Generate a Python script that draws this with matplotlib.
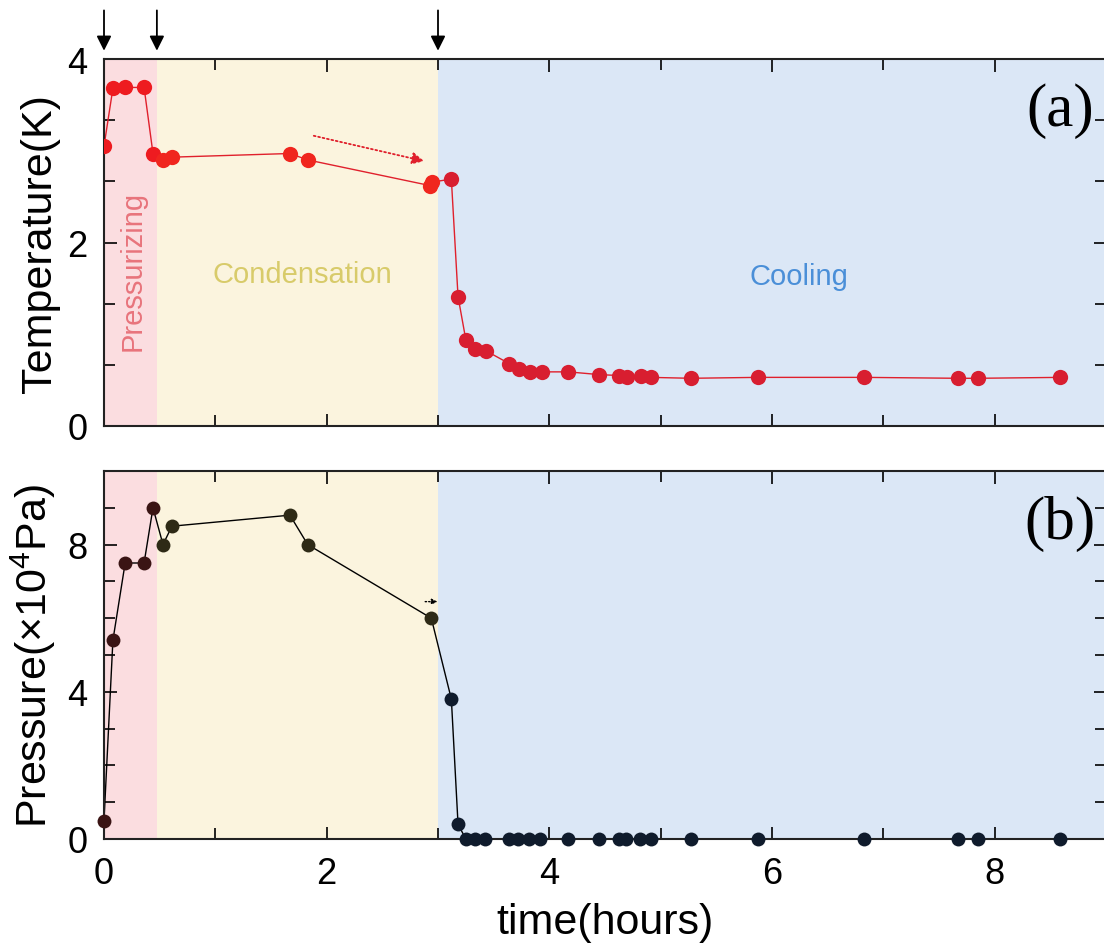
import matplotlib
matplotlib.use("Agg")
import numpy as np
import matplotlib.pyplot as plt
from matplotlib.ticker import MultipleLocator

plt.rcParams.update({"font.family": "Liberation Sans", "mathtext.default": "regular",
                     "xtick.direction": "in", "ytick.direction": "in",
                     "xtick.top": True, "ytick.right": True})

# phase boundaries (hours)
phases = [0.0, 0.475, 3.0, 9.0]
phase_names = ["Pressurizing", "Condensation", "Cooling"]

# (a) temperature
t_temp = [0.0, 0.08, 0.19, 0.36, 0.44, 0.53, 0.61, 1.67, 1.83, 2.93, 2.95, 3.12, 3.18, 3.25,
          3.33, 3.43, 3.64, 3.73, 3.83, 3.93, 4.17, 4.45, 4.63, 4.70, 4.82, 4.91, 5.27,
          5.87, 6.83, 7.67, 7.85, 8.59]
temp = [3.05, 3.68, 3.69, 3.69, 2.97, 2.90, 2.93, 2.97, 2.90, 2.62, 2.66, 2.69, 1.41, 0.94,
        0.84, 0.82, 0.68, 0.62, 0.59, 0.59, 0.59, 0.56, 0.55, 0.53, 0.55, 0.53, 0.52,
        0.53, 0.53, 0.52, 0.52, 0.53]

# (b) pressure (x10^4 Pa)
t_pres = [0.0, 0.08, 0.19, 0.36, 0.44, 0.53, 0.61, 1.67, 1.83, 2.94, 3.12, 3.18, 3.25,
          3.33, 3.42, 3.64, 3.72, 3.82, 3.92, 4.17, 4.45, 4.63, 4.69, 4.81, 4.91, 5.27,
          5.87, 6.83, 7.67, 7.85, 8.59]
pres = [0.5, 5.4, 7.5, 7.5, 9.0, 8.0, 8.5, 8.8, 8.0, 6.0, 3.8, 0.4, 0.0,
        0.0, 0.0, 0.0, 0.0, 0.0, 0.0, 0.0, 0.0, 0.0, 0.0, 0.0, 0.0, 0.0,
        0.0, 0.0, 0.0, 0.0, 0.0]

bg = ["#fbdde0", "#fbf4de", "#dbe7f6"]
temp_mk = ["#ee1b20", "#f0261e", "#d81e30"]
pres_mk = ["#3a1414", "#2e2a16", "#0f1b2c"]

W, H = 1104, 953
fig = plt.figure(figsize=(W / 100, H / 100), dpi=100)
ax1 = fig.add_axes([104 / W, 1 - 427 / H, 1002 / W, 367 / H])
ax2 = fig.add_axes([104 / W, 1 - 840 / H, 1002 / W, 368 / H])

for ax in (ax1, ax2):
    for i in range(3):
        ax.axvspan(phases[i], phases[i + 1], color=bg[i], lw=0, zorder=0)
    ax.set_xlim(0, 9)
    ax.xaxis.set_major_locator(MultipleLocator(2))
    ax.xaxis.set_minor_locator(MultipleLocator(1))
    ax.tick_params(which="both", labelsize=26, width=1.2, pad=12)
    ax.tick_params(which="major", length=9)
    ax.tick_params(which="minor", length=8)
    for s in ax.spines.values():
        s.set_linewidth(1.5)
        s.set_color("#222222")

# panel (a)
tt, T = np.array(t_temp), np.array(temp)
ax1.plot(tt, T, "-", color="#e0202c", lw=1.0, zorder=2)
for i in range(3):
    m = (tt >= phases[i]) & (tt < phases[i + 1])
    ax1.plot(tt[m], T[m], "o", ms=11, color=temp_mk[i], mec="none", zorder=3)
ax1.set_ylim(0, 4)
ax1.yaxis.set_major_locator(MultipleLocator(2))
ax1.yaxis.set_minor_locator(MultipleLocator(2 / 3))
ax1.tick_params(labelbottom=False)
ax1.set_ylabel("Temperature(K)", fontsize=31)
ax1.yaxis.set_label_coords(-0.044, 0.5)
ax1.text(0.954, 0.86, "(a)", transform=ax1.transAxes, fontsize=44,
         family="Liberation Serif", ha="center", va="center")
ax1.text(0.26, 1.70, phase_names[0], rotation=90, fontsize=21, color="#e8747c",
         ha="center", va="center")
ax1.text(1.78, 1.66, phase_names[1], fontsize=21, color="#d8cb6a", ha="center", va="center")
ax1.text(6.24, 1.64, phase_names[2], fontsize=21, color="#4a8fd8", ha="center", va="center")
ax1.annotate("", xy=(2.9, 2.88), xytext=(1.86, 3.17),
             arrowprops=dict(arrowstyle="-|>", color="#e0202c", ls=(0, (1, 1.5)),
                             lw=1.3, mutation_scale=18))
for xb in phases[:3]:
    ax1.annotate("", xy=(xb, 4.06), xytext=(xb, 4.56), annotation_clip=False,
                 arrowprops=dict(arrowstyle="-|>", color="black", lw=1.3, mutation_scale=22))

# panel (b)
tp, P = np.array(t_pres), np.array(pres)
ax2.plot(tp, P, "-", color="black", lw=1.0, zorder=2, clip_on=False)
for i in range(3):
    m = (tp >= phases[i]) & (tp < phases[i + 1])
    ax2.plot(tp[m], P[m], "o", ms=10, color=pres_mk[i], mec="none", zorder=3, clip_on=False)
ax2.set_ylim(0, 10)
ax2.yaxis.set_major_locator(MultipleLocator(4))
ax2.yaxis.set_minor_locator(MultipleLocator(1))
ax2.set_ylabel("Pressure(×10$^4$Pa)", fontsize=31)
ax2.yaxis.set_label_coords(-0.046, 0.5)
ax2.set_xlabel("time(hours)", fontsize=31, labelpad=8)
ax2.text(0.954, 0.86, "(b)", transform=ax2.transAxes, fontsize=44,
         family="Liberation Serif", ha="center", va="center")
ax2.annotate("", xy=(3.02, 6.45), xytext=(2.86, 6.45),
             arrowprops=dict(arrowstyle="-|>", color="black", ls=(0, (1, 1.5)),
                             lw=1.0, mutation_scale=8))

fig.savefig("out.png", dpi=100)
